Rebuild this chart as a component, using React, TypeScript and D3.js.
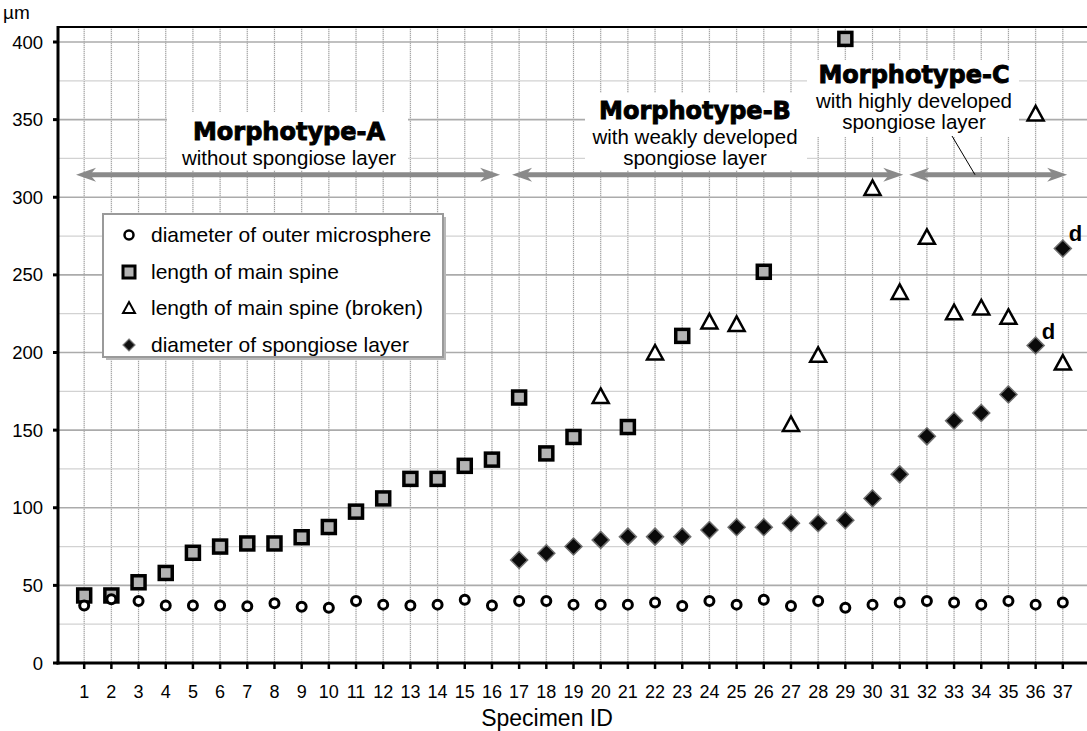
import * as d3 from "d3";
import { useEffect, useRef } from "react";

const width = 1087,
  height = 731,
  axisLeft = 58,
  axisBottom = 663,
  plotTop = 27;

const font = "'Liberation Sans', Arial, Helvetica, sans-serif";
const heavyFont = "'DejaVu Sans', 'Liberation Sans', sans-serif";

// specimen IDs on the x axis
const specimenIds = [
  1, 2, 3, 4, 5, 6, 7, 8, 9, 10, 11, 12, 13, 14, 15, 16, 17, 18, 19, 20, 21,
  22, 23, 24, 25, 26, 27, 28, 29, 30, 31, 32, 33, 34, 35, 36, 37,
];
const yTicks = [0, 50, 100, 150, 200, 250, 300, 350, 400];
const yMinorTicks = [25, 75, 125, 175, 225, 275, 325, 375];

// diameter of outer microsphere (one per specimen)
const outerMicrosphere = [
  37, 41, 40, 37, 37, 37, 36.5, 38.5, 36.3, 35.6, 40, 37.6, 37, 37.6, 40.8, 37,
  40, 40, 37.6, 37.6, 37.6, 38.9, 36.7, 40, 37.6, 40.8, 36.7, 40, 35.6, 37.6,
  38.9, 40, 38.9, 37.6, 40, 37.6, 38.9,
];

// length of main spine
const mainSpineIds = [
  1, 2, 3, 4, 5, 6, 7, 8, 9, 10, 11, 12, 13, 14, 15, 16, 17, 18, 19, 21, 23, 26,
  29,
];
const mainSpine = [
  43.5, 43.5, 52, 58, 71, 75, 77, 77, 81, 87.6, 97.5, 106, 118.6, 118.6, 127,
  131, 171, 135, 145.6, 152, 210.7, 252, 402,
];

// length of main spine (broken)
const brokenIds = [20, 22, 24, 25, 27, 28, 30, 31, 32, 33, 34, 35, 36, 37];
const brokenSpine = [
  172, 200, 220, 218.4, 154, 198.5, 306, 239, 274.5, 226, 229, 223, 354, 193.5,
];

// diameter of spongiose layer
const spongioseIds = [
  17, 18, 19, 20, 21, 22, 23, 24, 25, 26, 27, 28, 29, 30, 31, 32, 33, 34, 35,
  36, 37,
];
const spongiose = [
  66.4, 70.7, 75, 79.3, 81.4, 81.4, 81.4, 85.7, 87.4, 87.4, 90, 90, 92, 106,
  121.5, 146, 156, 161, 173, 204.5, 267,
];
const markedD = [36, 37];

const legendLabels = [
  "diameter of outer microsphere",
  "length of main spine",
  "length of main spine (broken)",
  "diameter of spongiose layer",
];

export default function App() {
  const ref = useRef<SVGSVGElement | null>(null);

  useEffect(() => {
    if (!ref.current) return;
    const svg = d3.select(ref.current);
    svg.selectAll("*").remove();

    const x = d3.scaleLinear([0, 38], [57, 1090]);
    const y = d3.scaleLinear([0, 400], [axisBottom, 42]);

    // grid
    const grid = svg.append("g");
    grid
      .selectAll(".hminor")
      .data(yMinorTicks)
      .join("line")
      .attr("x1", axisLeft)
      .attr("x2", width)
      .attr("y1", (d) => y(d))
      .attr("y2", (d) => y(d))
      .attr("stroke", "#d2d2d2")
      .attr("stroke-width", 1.2);
    grid
      .selectAll(".vsolid")
      .data(specimenIds)
      .join("line")
      .attr("x1", (d) => x(d))
      .attr("x2", (d) => x(d))
      .attr("y1", plotTop)
      .attr("y2", axisBottom)
      .attr("stroke", "#e6e6e6")
      .attr("stroke-width", 1.5);
    grid
      .selectAll(".vdot")
      .data(specimenIds)
      .join("line")
      .attr("x1", (d) => x(d))
      .attr("x2", (d) => x(d))
      .attr("y1", plotTop)
      .attr("y2", axisBottom)
      .attr("stroke", "#a0a0a0")
      .attr("stroke-width", 1)
      .attr("stroke-dasharray", "1,1");
    grid
      .selectAll(".hmajor")
      .data(yTicks.filter((d) => d > 0))
      .join("line")
      .attr("x1", axisLeft)
      .attr("x2", width)
      .attr("y1", (d) => y(d))
      .attr("y2", (d) => y(d))
      .attr("stroke", "#ababab")
      .attr("stroke-width", 1.6);

    // white boxes behind the morphotype labels
    const boxes: [number, number, number, number][] = [
      [167, 112, 241, 58],
      [585, 93, 222, 77],
      [807, 60, 212, 77],
    ];
    svg
      .append("g")
      .selectAll("rect")
      .data(boxes)
      .join("rect")
      .attr("x", (d) => d[0])
      .attr("y", (d) => d[1])
      .attr("width", (d) => d[2])
      .attr("height", (d) => d[3])
      .attr("fill", "white");

    // range arrows
    const arrowY = y(314.5);
    const arrows: [number, number][] = [
      [0.7, 16.3],
      [16.74, 31.13],
      [31.35, 37.16],
    ];
    const ag = svg.append("g").attr("fill", "#8a8a8a");
    arrows.forEach(([a, b]) => {
      const x0 = x(a),
        x1 = x(b);
      ag.append("line")
        .attr("x1", x0 + 10)
        .attr("x2", x1 - 10)
        .attr("y1", arrowY)
        .attr("y2", arrowY)
        .attr("stroke", "#8a8a8a")
        .attr("stroke-width", 5);
      ag.append("path").attr(
        "d",
        `M${x1},${arrowY} L${x1 - 20},${arrowY - 7} L${x1 - 14},${arrowY} L${x1 - 20},${arrowY + 7}Z`
      );
      ag.append("path").attr(
        "d",
        `M${x0},${arrowY} L${x0 + 20},${arrowY - 7} L${x0 + 14},${arrowY} L${x0 + 20},${arrowY + 7}Z`
      );
    });

    // callout for morphotype C
    svg
      .append("line")
      .attr("x1", 952)
      .attr("y1", 136)
      .attr("x2", 975)
      .attr("y2", arrowY)
      .attr("stroke", "black")
      .attr("stroke-width", 1);

    // morphotype labels
    const labels: [number, number, string, string[]][] = [
      [289, 140, "Morphotype-A", ["without spongiose layer"]],
      [695, 119, "Morphotype-B", ["with weakly developed", "spongiose layer"]],
      [914, 83, "Morphotype-C", ["with highly developed", "spongiose layer"]],
    ];
    labels.forEach(([cx, by, title, lines]) => {
      svg
        .append("text")
        .attr("x", cx)
        .attr("y", by)
        .attr("text-anchor", "middle")
        .attr("font-family", heavyFont)
        .attr("font-weight", "bold")
        .attr("font-size", 24)
        .attr("stroke", "black")
        .attr("stroke-width", 0.9)
        .text(title);
      lines.forEach((l, i) =>
        svg
          .append("text")
          .attr("x", cx)
          .attr("y", by + 25 + i * 20.5)
          .attr("text-anchor", "middle")
          .attr("font-family", font)
          .attr("font-size", 20.5)
          .text(l)
      );
    });

    // legend
    const lg = svg.append("g");
    lg.append("rect")
      .attr("x", 106)
      .attr("y", 217)
      .attr("width", 340)
      .attr("height", 143)
      .attr("fill", "#b8b8b8");
    lg.append("rect")
      .attr("x", 103)
      .attr("y", 214)
      .attr("width", 340)
      .attr("height", 143)
      .attr("fill", "white")
      .attr("stroke", "#9a9a9a")
      .attr("stroke-width", 2);
    const rowY = [235, 272, 308, 345];
    lg.selectAll("text")
      .data(legendLabels)
      .join("text")
      .attr("x", 151)
      .attr("y", (_, i) => rowY[i] + 7)
      .attr("font-family", font)
      .attr("font-size", 21)
      .text((d) => d);
    const lx = 129;
    lg.append("circle")
      .attr("cx", lx)
      .attr("cy", rowY[0])
      .attr("r", 4.5)
      .attr("fill", "white")
      .attr("stroke", "black")
      .attr("stroke-width", 2.5);
    lg.append("rect")
      .attr("x", lx - 6)
      .attr("y", rowY[1] - 6)
      .attr("width", 12)
      .attr("height", 12)
      .attr("fill", "#b3b3b3")
      .attr("stroke", "black")
      .attr("stroke-width", 3);
    lg.append("path")
      .attr("d", `M${lx},${rowY[2] - 6} L${lx + 6},${rowY[2] + 5} L${lx - 6},${rowY[2] + 5}Z`)
      .attr("fill", "white")
      .attr("stroke", "black")
      .attr("stroke-width", 2);
    lg.append("path")
      .attr("d", `M${lx},${rowY[3] - 6} L${lx + 6},${rowY[3]} L${lx},${rowY[3] + 6} L${lx - 6},${rowY[3]}Z`)
      .attr("fill", "#111")
      .attr("stroke", "#777")
      .attr("stroke-width", 1.2);

    // axes
    const axes = svg.append("g").attr("stroke", "black");
    axes
      .append("line")
      .attr("x1", axisLeft)
      .attr("x2", width)
      .attr("y1", plotTop)
      .attr("y2", plotTop)
      .attr("stroke-width", 2);
    axes
      .append("line")
      .attr("x1", axisLeft)
      .attr("x2", axisLeft)
      .attr("y1", plotTop - 1)
      .attr("y2", axisBottom + 1.5)
      .attr("stroke-width", 3);
    axes
      .append("line")
      .attr("x1", axisLeft - 1.5)
      .attr("x2", width)
      .attr("y1", axisBottom)
      .attr("y2", axisBottom)
      .attr("stroke-width", 3);
    axes
      .selectAll(".yt")
      .data(yTicks)
      .join("line")
      .attr("x1", axisLeft - 5)
      .attr("x2", axisLeft)
      .attr("y1", (d) => y(d))
      .attr("y2", (d) => y(d))
      .attr("stroke-width", 3);
    axes
      .selectAll(".xt")
      .data(specimenIds)
      .join("line")
      .attr("x1", (d) => x(d))
      .attr("x2", (d) => x(d))
      .attr("y1", axisBottom)
      .attr("y2", axisBottom + 6)
      .attr("stroke-width", 2.5);

    svg
      .append("g")
      .selectAll("text")
      .data(yTicks)
      .join("text")
      .attr("x", 43)
      .attr("y", (d) => y(d) + 6.5)
      .attr("text-anchor", "end")
      .attr("font-family", font)
      .attr("font-size", 18.5)
      .text((d) => d);
    svg
      .append("g")
      .selectAll("text")
      .data(specimenIds)
      .join("text")
      .attr("x", (d) => x(d))
      .attr("y", 698)
      .attr("text-anchor", "middle")
      .attr("font-family", font)
      .attr("font-size", 18)
      .text((d) => d);
    svg
      .append("text")
      .attr("x", 547)
      .attr("y", 726)
      .attr("text-anchor", "middle")
      .attr("font-family", font)
      .attr("font-size", 23)
      .text("Specimen ID");
    svg
      .append("text")
      .attr("x", 3)
      .attr("y", 19)
      .attr("font-family", font)
      .attr("font-size", 19)
      .text("µm");

    // markers
    svg
      .append("g")
      .selectAll("rect")
      .data(mainSpine)
      .join("rect")
      .attr("x", (_, i) => x(mainSpineIds[i]) - 6.5)
      .attr("y", (d) => y(d) - 6.5)
      .attr("width", 13)
      .attr("height", 13)
      .attr("fill", "#b3b3b3")
      .attr("stroke", "black")
      .attr("stroke-width", 3.5);

    svg
      .append("g")
      .selectAll("path")
      .data(brokenSpine)
      .join("path")
      .attr("d", (d, i) => {
        const cx = x(brokenIds[i]),
          cy = y(d);
        return `M${cx},${cy - 7.5} L${cx + 8},${cy + 7} L${cx - 8},${cy + 7}Z`;
      })
      .attr("fill", "white")
      .attr("stroke", "black")
      .attr("stroke-width", 2.5)
      .attr("stroke-linejoin", "miter");

    svg
      .append("g")
      .selectAll("path")
      .data(spongiose)
      .join("path")
      .attr("d", (d, i) => {
        const cx = x(spongioseIds[i]),
          cy = y(d);
        return `M${cx},${cy - 8.5} L${cx + 8.5},${cy} L${cx},${cy + 8.5} L${cx - 8.5},${cy}Z`;
      })
      .attr("fill", "#0a0a0a")
      .attr("stroke", "#707070")
      .attr("stroke-width", 1.5);

    svg
      .append("g")
      .selectAll("circle")
      .data(outerMicrosphere)
      .join("circle")
      .attr("cx", (_, i) => x(specimenIds[i]))
      .attr("cy", (d) => y(d))
      .attr("r", 4.5)
      .attr("fill", "white")
      .attr("stroke", "black")
      .attr("stroke-width", 3);

    // "d" marks on last two spongiose points
    svg
      .append("g")
      .selectAll("text")
      .data(markedD)
      .join("text")
      .attr("x", (d) => x(d) + 6)
      .attr("y", (d) => y(spongiose[spongioseIds.indexOf(d)]) - 7)
      .attr("font-family", font)
      .attr("font-weight", "bold")
      .attr("font-size", 22)
      .text("d");
  }, []);

  return (
    <svg
      ref={ref}
      width={width}
      height={height}
      viewBox={`0 0 ${width} ${height}`}
      style={{ position: "absolute", left: 0, top: 0, background: "white" }}
    />
  );
}
